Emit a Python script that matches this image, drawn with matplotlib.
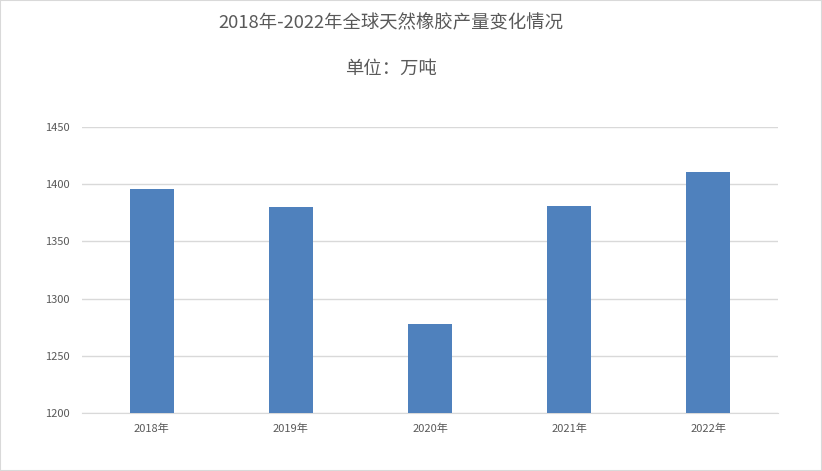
import matplotlib.pyplot as plt
from matplotlib.patches import Rectangle

plt.rcParams['font.family'] = ['Noto Sans CJK SC', 'DejaVu Sans']

years = ['2018年', '2019年', '2020年', '2021年', '2022年']
output = [1396, 1380, 1278, 1381, 1411]
yticks = [1200, 1250, 1300, 1350, 1400, 1450]

fig = plt.figure(figsize=(8.22, 4.71), dpi=100)
ax = fig.add_axes([82 / 822, 1 - 413 / 471, (778 - 82) / 822, (413 - 127) / 471])

x = range(len(years))
ax.bar(x, output, width=0.315, color='#4f81bd', zorder=3)

ax.set_xlim(-0.5, len(years) - 0.5)
ax.set_ylim(1200, 1450)
ax.set_yticks(yticks)
ax.set_xticks(list(x))
ax.set_xticklabels(years)
ax.grid(axis='y', color='#d9d9d9', linewidth=1, zorder=0)
for side in ['top', 'right', 'left']:
    ax.spines[side].set_visible(False)
ax.spines['bottom'].set_color('#d9d9d9')
ax.tick_params(axis='both', length=0, labelsize=8, colors='#595959')
ax.tick_params(axis='y', pad=9)
ax.tick_params(axis='x', pad=8)

# titles sit a bit left of the figure centre
fig.text(391 / 822, 1 - 23 / 471, '2018年-2022年全球天然橡胶产量变化情况',
         ha='center', va='center', fontsize=13.2, color='#595959')
fig.text(391 / 822, 1 - 69 / 471, '单位：万吨',
         ha='center', va='center', fontsize=13.2, color='#595959')

# thin gray frame around the chart area
fig.patches.append(Rectangle((0, 0), 1, 1, transform=fig.transFigure,
                             fill=False, edgecolor='#d9d9d9', linewidth=1.5))

fig.savefig('out.png', dpi=100)
